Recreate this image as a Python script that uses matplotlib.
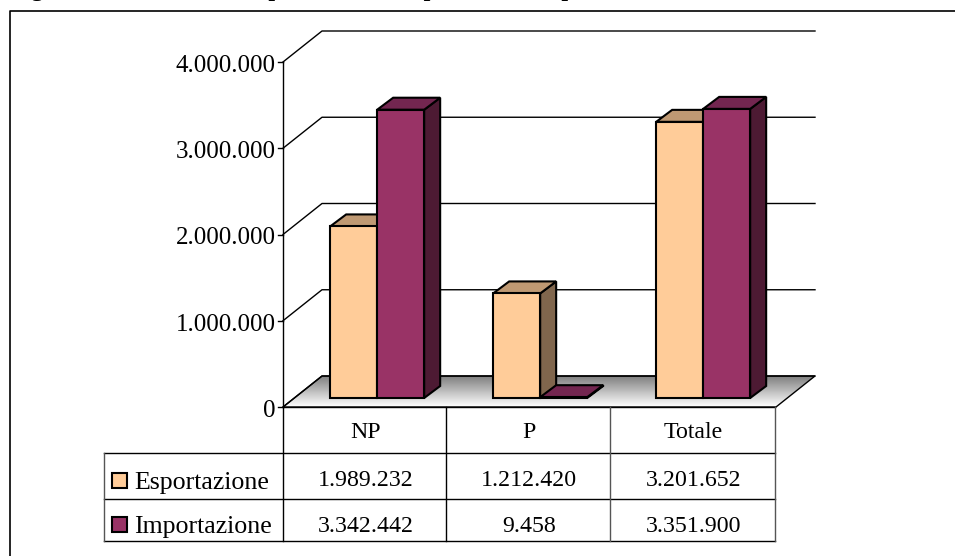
import numpy as np
import matplotlib
matplotlib.use('Agg')
import matplotlib.pyplot as plt
from matplotlib.patches import Polygon, Rectangle

categories = ['NP', 'P', 'Totale']
series_names = ['Esportazione', 'Importazione']
esportazione = [1989232, 1212420, 3201652]
importazione = [3342442, 9458, 3351900]
table_esp = ['1.989.232', '1.212.420', '3.201.652']
table_imp = ['3.342.442', '9.458', '3.351.900']
y_ticks = [0, 1000000, 2000000, 3000000, 4000000]
y_labels = ['0', '1.000.000', '2.000.000', '3.000.000', '4.000.000']
caption = 'Figura 3 – Valore delle esportazioni e importazioni di prodotti NP e P, anno 2004'

W, H = 955, 556
plt.rcParams['font.family'] = ['Liberation Serif', 'DejaVu Serif']

fig = plt.figure(figsize=(W / 100, H / 100), dpi=100)

# whole-figure pixel overlay for frame, floor, table and texts
px = fig.add_axes([0, 0, 1, 1])
px.set_xlim(0, W)
px.set_ylim(H, 0)
px.axis('off')

# main axes = front plane of the 3d box
x0, x1, y0, y4 = 283, 776, 407, 62
ax = fig.add_axes([x0 / W, 1 - y0 / H, (x1 - x0) / W, (y0 - y4) / H])
ax.set_xlim(0, 3)
ax.set_ylim(0, 4000000)
ax.axis('off')

DEPTH_X, DEPTH_Y = 39, 31      # box depth in px
BAR_SHIFT_X, BAR_SHIFT_Y = 12, 9   # bars sit a little way into the box
BAR_DX, BAR_DY = 16, 12        # depth of a single bar
CAT_W = (x1 - x0) / 3
BAR_W = 47 / CAT_W             # bar width in category units


def to_px(x, y, dx=0, dy=0):
    p = ax.transData.transform((x, y))
    return p[0] + dx, p[1] + dy


def poly(points, **kw):
    ax.add_patch(Polygon(points, closed=True, transform=None, clip_on=False, **kw))


# frame around the chart, only top and left fall inside the page
px.plot([10, 10, W], [H, 11, 11], color='black', lw=1.2, clip_on=False)

# caption running off the top edge
px.text(10, -4, caption, fontsize=17.3, fontweight='bold', va='baseline', ha='left')

# floor with vertical gradient, dark at the back
floor_patch = Polygon([(x0, y0), (x1, y0), (x1 + DEPTH_X, y0 - DEPTH_Y), (x0 + DEPTH_X, y0 - DEPTH_Y)],
                      closed=True, fc='none', ec='black', lw=1, zorder=2)
px.add_patch(floor_patch)
grad = np.linspace(0.5, 1.0, 64).reshape(-1, 1)
floor = px.imshow(grad, cmap='gray', vmin=0, vmax=1, aspect='auto', zorder=1,
                  extent=(x0, x1 + DEPTH_X, y0, y0 - DEPTH_Y), origin='upper', interpolation='bilinear')
floor.set_clip_path(floor_patch)
px.set_xlim(0, W)
px.set_ylim(H, 0)

# gridlines: side wall diagonal + back wall line
for v in y_ticks:
    a = to_px(0, v)
    b = to_px(0, v, DEPTH_X, DEPTH_Y)
    c = to_px(3, v, DEPTH_X, DEPTH_Y)
    ax.plot([a[0], b[0], c[0]], [a[1], b[1], c[1]], color='black', lw=1, transform=None, zorder=1.5,
            clip_on=False)
    ax.plot([a[0] - 5, a[0]], [a[1], a[1]], color='black', lw=1, transform=None, clip_on=False)

# y axis
a = to_px(0, 0)
b = to_px(0, 4000000)
ax.plot([a[0], b[0]], [a[1], b[1]], color='black', lw=1, transform=None, clip_on=False)

for v, lab in zip(y_ticks, y_labels):
    xx, yy = to_px(0, v, -7, -4)
    fig.text(xx / W, yy / H, lab, fontsize=18, ha='right', va='center')


def draw_bar(left, value, front, top, side, z):
    bl = to_px(left, 0, BAR_SHIFT_X, BAR_SHIFT_Y)
    br = to_px(left + BAR_W, 0, BAR_SHIFT_X, BAR_SHIFT_Y)
    tl = to_px(left, value, BAR_SHIFT_X, BAR_SHIFT_Y)
    tr = to_px(left + BAR_W, value, BAR_SHIFT_X, BAR_SHIFT_Y)
    d = (BAR_DX, BAR_DY)
    poly([br, (br[0] + d[0], br[1] + d[1]), (tr[0] + d[0], tr[1] + d[1]), tr], fc=side, ec='black', lw=1.5, zorder=z)
    poly([tl, tr, (tr[0] + d[0], tr[1] + d[1]), (tl[0] + d[0], tl[1] + d[1])], fc=top, ec='black', lw=1.5, zorder=z)
    poly([bl, br, tr, tl], fc=front, ec='black', lw=1.5, zorder=z + 0.1)


# bars step a touch less than the category width because they sit deeper in the box
centers = 0.5 + np.arange(3) * 163 / CAT_W
for i in range(3):
    left = centers[i] - BAR_W
    draw_bar(left, esportazione[i], '#ffcc99', '#bf9973', '#80664d', 3 + i)
    draw_bar(left + BAR_W, importazione[i], '#993366', '#732650', '#4d1a33', 3.5 + i)

# data table under the axes
col_x = [283, 446, 610, 775]
row_y = [407, 453, 499, 541]
col_colors = ['black', 'black', '#555555', '#555555']
left_x = 104
for y in row_y:
    px.plot([left_x if y > 407 else col_x[0], col_x[-1]], [y, y], color='black', lw=1)
for x, col in zip(col_x, col_colors):
    px.plot([x, x], [row_y[0], row_y[-1]], color=col, lw=1)
px.plot([left_x, left_x], [row_y[1], row_y[-1]], color='#555555', lw=1)

for i, c in enumerate(categories):
    cx = (col_x[i] + col_x[i + 1]) / 2 + 1
    px.text(cx, 433, c, fontsize=17.2, ha='center', va='center')
    px.text(cx, 481, table_esp[i], fontsize=17.2, ha='center', va='center')
    px.text(cx, 527, table_imp[i], fontsize=17.2, ha='center', va='center')

px.add_patch(Rectangle((112, 473), 15, 15, fc='#ffcc99', ec='black', lw=1.5))
px.add_patch(Rectangle((112, 517), 15, 15, fc='#993366', ec='black', lw=1.5))
px.text(134, 483, series_names[0], fontsize=18.6, ha='left', va='center')
px.text(134, 527, series_names[1], fontsize=18.6, ha='left', va='center')

fig.savefig('out.png', dpi=100)
